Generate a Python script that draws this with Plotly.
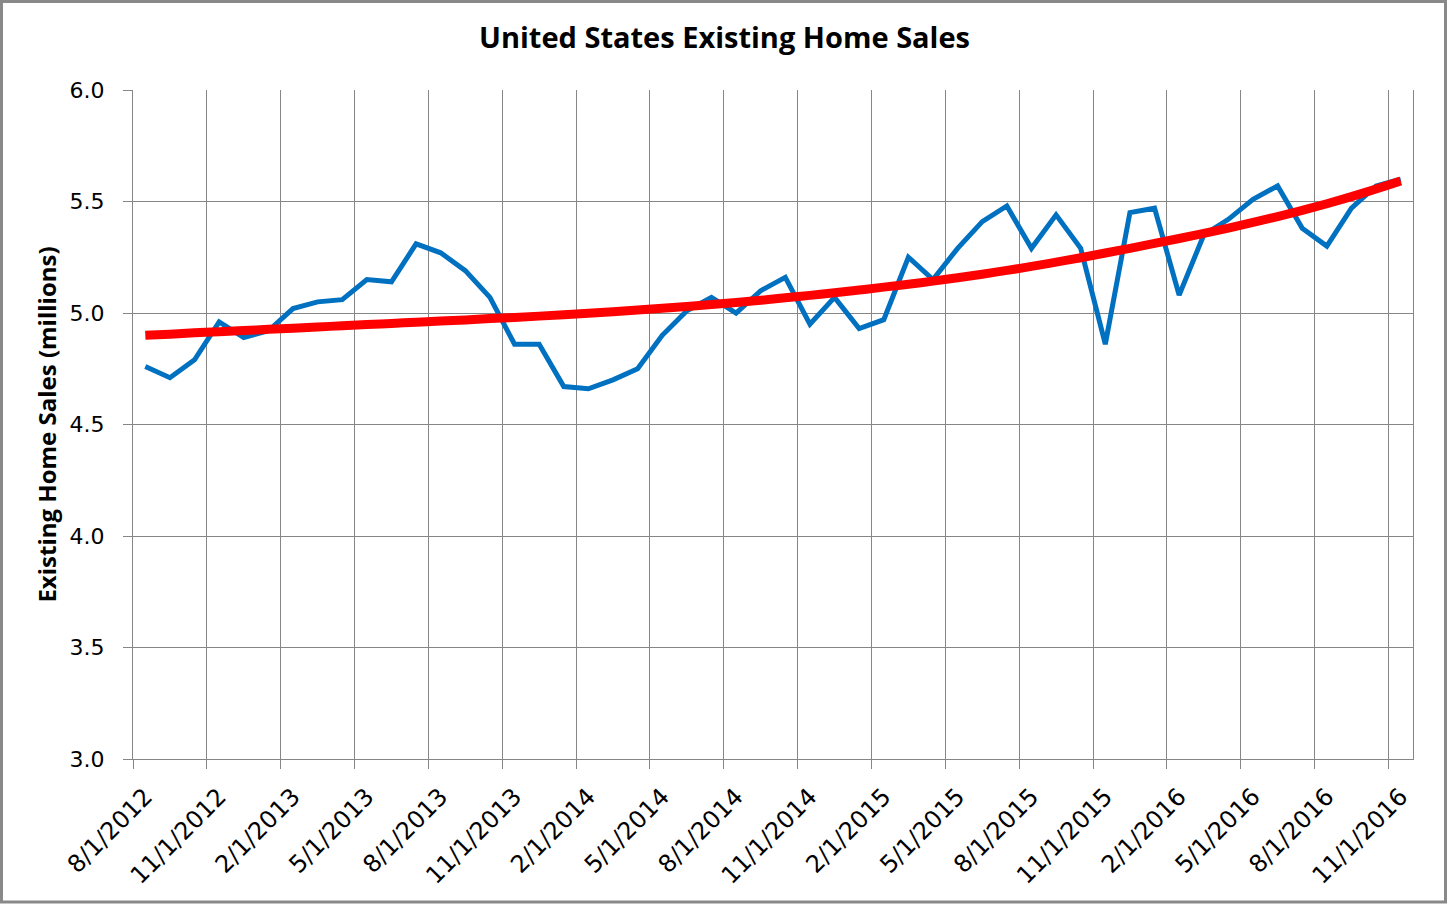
import plotly.graph_objects as go

tick_labels = ["8/1/2012", "11/1/2012", "2/1/2013", "5/1/2013", "8/1/2013", "11/1/2013",
               "2/1/2014", "5/1/2014", "8/1/2014", "11/1/2014", "2/1/2015", "5/1/2015",
               "8/1/2015", "11/1/2015", "2/1/2016", "5/1/2016", "8/1/2016", "11/1/2016"]

# monthly existing home sales (millions), 8/2012 .. 11/2016
sales = [4.76, 4.71, 4.79, 4.96, 4.89, 4.92, 5.02, 5.05, 5.06, 5.15,
         5.14, 5.31, 5.27, 5.19, 5.07, 4.86, 4.86, 4.67, 4.66, 4.70,
         4.75, 4.90, 5.01, 5.07, 5.00, 5.10, 5.16, 4.95, 5.07, 4.93,
         4.97, 5.25, 5.15, 5.29, 5.41, 5.48, 5.29, 5.44, 5.29, 4.86,
         5.45, 5.47, 5.08, 5.35, 5.42, 5.51, 5.57, 5.38, 5.30, 5.47,
         5.57, 5.60]

# trend line
trend = [4.900, 4.905, 4.911, 4.916, 4.921, 4.927, 4.932, 4.937, 4.943, 4.948,
         4.953, 4.959, 4.964, 4.969, 4.975, 4.980, 4.986, 4.992, 4.999, 5.006,
         5.013, 5.021, 5.029, 5.038, 5.047, 5.057, 5.068, 5.079, 5.091, 5.103,
         5.116, 5.129, 5.143, 5.158, 5.174, 5.191, 5.209, 5.228, 5.248, 5.269,
         5.290, 5.312, 5.334, 5.357, 5.381, 5.406, 5.432, 5.460, 5.490, 5.522,
         5.556, 5.592]

y_ticks = [3.0, 3.5, 4.0, 4.5, 5.0, 5.5, 6.0]

x = list(range(len(sales)))
tick_pos = list(range(0, len(sales), 3))
grid_pos = [p - 0.5 for p in tick_pos]

GRID = "#868686"
W, H = 1449, 906
L, R, T, B = 133, 36, 90, 147
pw, ph = W - L - R, H - T - B

fig = go.Figure()
fig.add_trace(go.Scatter(x=x, y=sales, mode="lines",
                         line=dict(color="#0070C0", width=5), showlegend=False))
fig.add_trace(go.Scatter(x=x, y=trend, mode="lines",
                         line=dict(color="#FF0000", width=9, shape="spline"), showlegend=False))

def px_x(p):
    return (p - L) / pw

def px_y(p):
    return (H - B - p) / ph

fig.add_shape(type="rect", xref="paper", yref="paper",
              x0=px_x(1.5), x1=px_x(W - 3.5), y0=px_y(H - 4), y1=px_y(1.5),
              line=dict(color="#898989", width=3), layer="above")

fig.update_layout(
    width=W, height=H,
    margin=dict(l=L, r=R, t=T, b=B),
    paper_bgcolor="white", plot_bgcolor="white",
    title=dict(text="<b>United States Existing Home Sales</b>", x=0.5, xanchor="center",
               y=1 - 38 / H, yanchor="middle",
               font=dict(family="Open Sans", size=29, color="black")),
    xaxis=dict(range=[-0.5, len(sales) - 0.5], tickmode="array", tickvals=tick_pos,
               ticktext=tick_labels, tickangle=-45, ticks="", showgrid=False,
               showline=True, linecolor=GRID, linewidth=1, zeroline=False,
               tickfont=dict(family="DejaVu Sans", size=24, color="black"),
               ticklabelstandoff=13,
               minor=dict(tickmode="array", tickvals=grid_pos, showgrid=True,
                          gridcolor=GRID, gridwidth=1, ticks="outside", ticklen=9,
                          tickcolor=GRID)),
    yaxis=dict(range=[3.0, 6.0], tickmode="array", tickvals=y_ticks,
               ticktext=[f"{v:.1f}" for v in y_ticks],
               showgrid=True, gridcolor=GRID, gridwidth=1, zeroline=False,
               showline=True, linecolor=GRID, linewidth=1, mirror=True,
               ticks="outside", ticklen=9, tickcolor=GRID,
               tickfont=dict(family="DejaVu Sans", size=22, color="black"),
               ticklabelstandoff=14,
               title=dict(text="<b>Existing Home Sales (millions)</b>", standoff=6,
                          font=dict(family="Open Sans", size=24, color="black"))),
)

fig.write_html("out.html", config={"displayModeBar": False},
               post_script="document.body.style.margin='0';")
